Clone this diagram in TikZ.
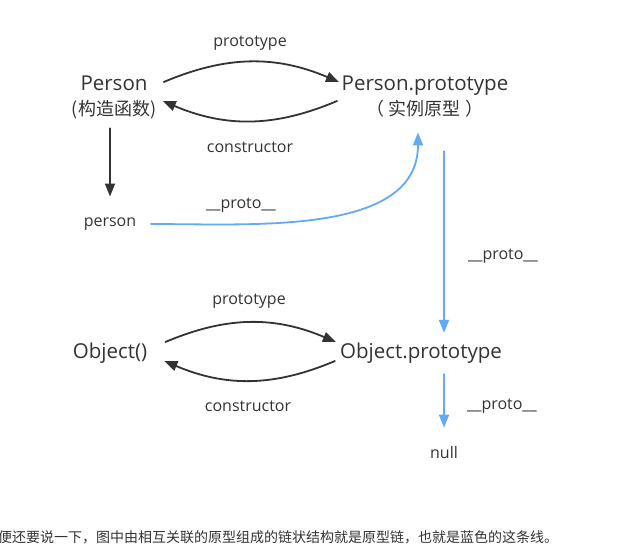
\documentclass[tikz,border=0pt]{standalone}
\usepackage{fontspec}
\setmainfont{Open Sans}
\newfontfamily\cjk{Noto Sans CJK SC}
\usetikzlibrary{arrows.meta}
\definecolor{txtgray}{HTML}{333333}
\definecolor{chainblue}{RGB}{99,170,240}
\begin{document}
\begin{tikzpicture}[x=1pt, y=-1pt, line join=round, line cap=round, >={Triangle[length=13pt,width=10pt]},
	big/.style={font=\fontsize{20.5}{25}\selectfont, text=txtgray, align=center, inner sep=0pt},
	small/.style={font=\fontsize{16}{19}\selectfont, text=txtgray, inner sep=0pt},
	link/.style={->, draw=txtgray, line width=1.8pt},
	chain/.style={->, draw=chainblue, line width=1.8pt}]
	\useasboundingbox (0,0) rectangle (620,558);
	% upper pair
	\node[big] (P) at (114,97) {Person\\{\cjk\fontsize{18}{25}\selectfont (构造函数)}};
	\node[big] (pp) at (425,97) {Person.prototype\\{\cjk\fontsize{18}{25}\selectfont （\hspace{5pt}实例原型\hspace{5pt}）}};
	\node[small] (inst) at (110,224) {person};
	\node[small] (lbl1) at (250,43) {prototype};
	\node[small] (lbl2) at (250,147) {constructor};
	\node[small] (lbl3) at (241,205) {\_\_proto\_\_};
	\node[small] (lbl4) at (503,256) {\_\_proto\_\_};
	% lower pair
	\node[big] (oc) at (110,353) {Object()};
	\node[big] (op) at (421,353) {Object.prototype};
	\node[small] (lbl5) at (249,301) {prototype};
	\node[small] (lbl6) at (248,406) {constructor};
	\node[small] (lbl7) at (502,406) {\_\_proto\_\_};
	\node[small] (nl) at (444,452) {null};
	% black arrows
	\draw[link] ([xshift=7.5pt,yshift=15pt]P.east) to[out=23, in=157] ([xshift=-2.5pt,yshift=15pt]pp.west);
	\draw[link] ([xshift=-4.5pt,yshift=-4pt]pp.west) to[out=-157, in=-23] ([xshift=6.5pt,yshift=-4pt]P.east);
	\draw[link, shorten <=9.5pt, shorten >=21pt] ([xshift=-4pt]P.south) -- (inst.north);
	\draw[link] ([xshift=18pt,yshift=11pt]oc.east) to[out=23, in=157] ([xshift=-4pt,yshift=11pt]op.west);
	\draw[link] ([xshift=-5pt,yshift=-8pt]op.west) to[out=-157, in=-23] ([xshift=17pt,yshift=-8pt]oc.east);
	% blue chain
	\draw[chain, shorten <=14.5pt, shorten >=14.5pt] (inst.east) to[out=0, in=-90] ([xshift=-7pt]pp.south);
	\draw[chain, shorten <=33.5pt, shorten >=9.7pt] (pp.south -| nl) -- (op.north -| nl);
	\draw[chain, shorten <=10.7pt, shorten >=18pt] (op.south -| nl) -- (nl.north);
	% caption
	\node[anchor=west, inner sep=0pt, text=txtgray, font=\cjk\fontsize{14}{16}\selectfont] (cap) at (-2,537) {便还要说一下，图中由相互关联的原型组成的链状结构就是原型链，也就是蓝色的这条线。};
\end{tikzpicture}
\end{document}
